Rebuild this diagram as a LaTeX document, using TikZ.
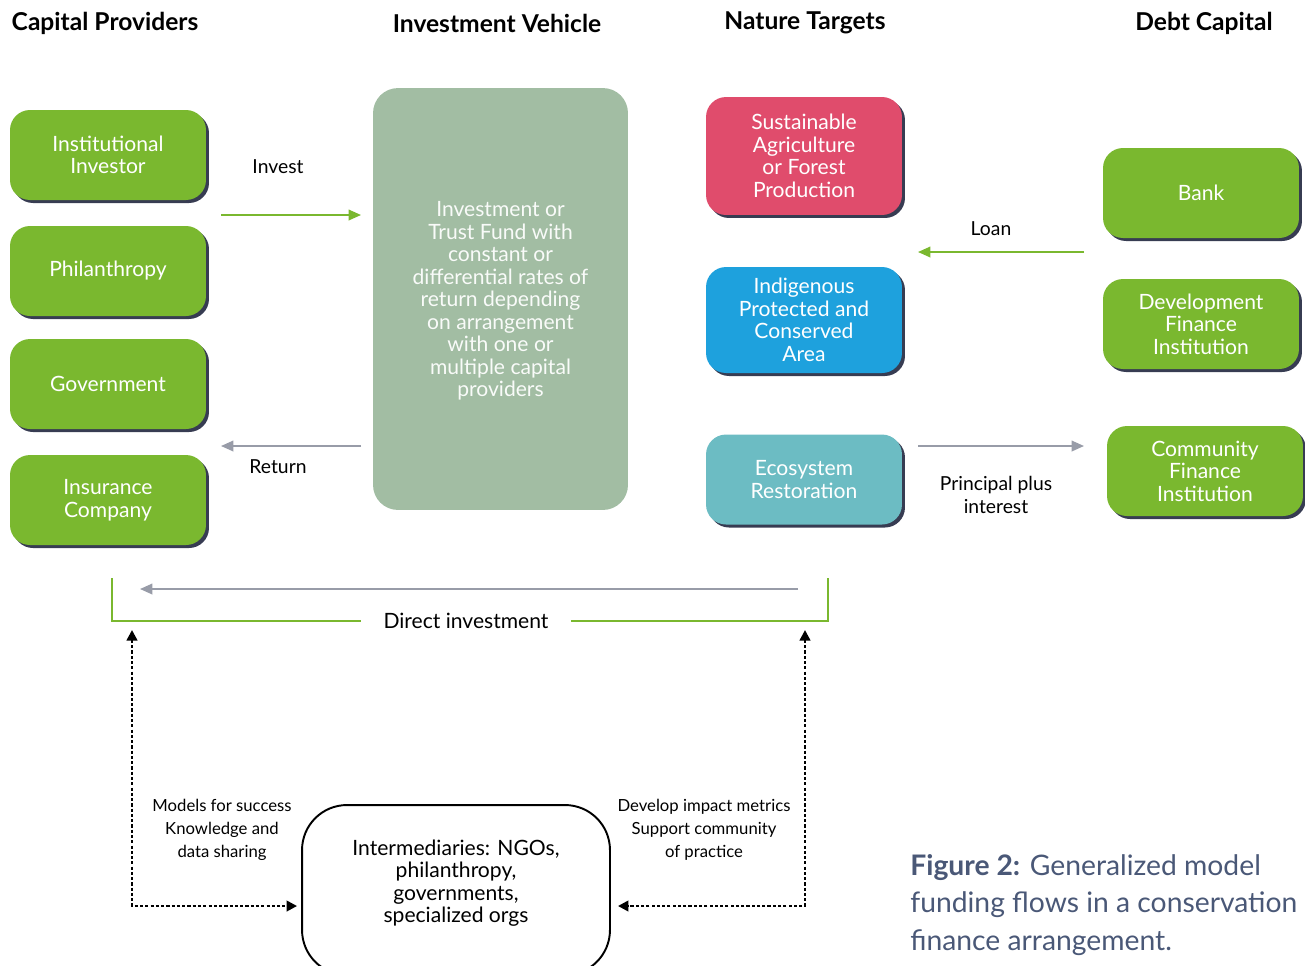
\documentclass[tikz,border=0pt]{standalone}
\usepackage{fontspec}
\setmainfont{Lato}
\usepackage{tikz}
\usetikzlibrary{calc,arrows.meta,shadows,positioning}
\usepackage{xcolor}
\definecolor{provgreen}{HTML}{7AB82F}
\definecolor{agrired}{HTML}{E04C6C}
\definecolor{indigblue}{HTML}{1EA1DD}
\definecolor{ecoteal}{HTML}{6CBCC3}
\definecolor{fundsage}{HTML}{A2BDA3}
\definecolor{shadownavy}{HTML}{373C52}
\definecolor{flowgray}{HTML}{989CA8}
\definecolor{capslate}{HTML}{4A5877}
\tikzset{
  flowbox/.style={rounded corners=0.4cm, minimum width=3.92cm, minimum height=1.8cm,
    text=white, align=center, inner sep=2pt, font=\fontsize{12}{12.8}\selectfont,
    drop shadow={opacity=1, fill=shadownavy, shadow xshift=0.06cm, shadow yshift=-0.06cm}},
  header/.style={font=\bfseries\fontsize{14}{16}\selectfont},
  flowlabel/.style={font=\fontsize{11}{13}\selectfont, align=center},
  smalllabel/.style={font=\fontsize{9.5}{13}\selectfont, align=center},
  greenflow/.style={draw=provgreen, line width=1pt, -{Triangle[length=7pt,width=6pt]}},
  grayflow/.style={draw=flowgray, line width=1pt, -{Triangle[length=7pt,width=6pt]}},
  dotflow/.style={draw=black, line width=1.4pt, dash pattern=on 1.8pt off 1.2pt,
    {Triangle[length=6pt,width=6pt]}-{Triangle[length=6pt,width=6pt]}}
}

\begin{document}
\begin{tikzpicture}[x=0.02cm,y=-0.02cm]
  \useasboundingbox (0,0) rectangle (1305,965);
  % column headers
  \node[header] (hcap) at (105,23) {Capital Providers};
  \node[header] (hveh) at (497,23) {Investment Vehicle};
  \node[header] (hnat) at (805,23) {Nature Targets};
  \node[header] (hdebt) at (1204,23) {Debt Capital};
  % capital providers
  \node[flowbox, fill=provgreen] (inst) at (108,155) {Institutional\\Investor};
  \node[flowbox, fill=provgreen] (phil) at (108,271) {Philanthropy};
  \node[flowbox, fill=provgreen] (gov) at (108,384) {Government};
  \node[flowbox, fill=provgreen] (ins) at (108,500) {Insurance\\Company};
  % investment vehicle
  \node[fill=fundsage, rounded corners=0.5cm, minimum width=5.1cm, minimum height=8.44cm] (fund) at (500.5,299) {};
  \node[text=white!94!fundsage, align=center, font=\fontsize{12}{12.8}\selectfont] (fundtext) at (500.5,301)
    {Investment or\\Trust Fund with\\constant or\\differential rates of\\return depending\\on arrangement\\with one or\\multiple capital\\providers};
  % nature targets
  \node[flowbox, fill=agrired, minimum height=2.36cm] (agri) at (804,156) {Sustainable\\Agriculture\\or Forest\\Production};
  \node[flowbox, fill=indigblue, minimum height=2.12cm] (indig) at (804,320) {Indigenous\\Protected and\\Conserved\\Area};
  \node[flowbox, fill=ecoteal] (eco) at (804,479.5) {Ecosystem\\Restoration};
  % debt capital
  \node[flowbox, fill=provgreen] (bank) at (1201,193) {Bank};
  \node[flowbox, fill=provgreen] (dfi) at (1201,324) {Development\\Finance\\Institution};
  \node[flowbox, fill=provgreen] (cfi) at (1205,471) {Community\\Finance\\Institution};
  % flows between columns
  \coordinate (invA) at (221,215);
  \coordinate (invB) at (361,215);
  \coordinate (retA) at (361,446);
  \coordinate (retB) at (221,446);
  \coordinate (loanA) at (1084,252);
  \coordinate (loanB) at (918,252);
  \coordinate (ppiA) at (918,446);
  \coordinate (ppiB) at (1084,446);
  \draw[greenflow] (invA) -- (invB);
  \draw[grayflow] (retA) -- (retB);
  \draw[greenflow] (loanA) -- (loanB);
  \draw[grayflow] (ppiA) -- (ppiB);
  \node[flowlabel] (invest) at (278,167) {Invest};
  \node[flowlabel] (return) at (278,467) {Return};
  \node[flowlabel] (loan) at (991,229) {Loan};
  \node[flowlabel] (ppi) at (996,495) {Principal plus\\interest};
  % direct investment bracket
  \node[font=\fontsize{12}{14}\selectfont, inner xsep=0.44cm] (direct) at (466,621) {Direct investment};
  \coordinate (brL) at (112,578);
  \coordinate (brR) at (828,578);
  \draw[provgreen, line width=1.1pt] (brL) |- (direct.west);
  \draw[provgreen, line width=1.1pt] (direct.east) -| (brR);
  \coordinate (dirA) at (798,589);
  \coordinate (dirB) at (140,589);
  \draw[grayflow] (dirA) -- (dirB);
  % intermediaries
  \node[draw=black, line width=1.1pt, rounded corners=0.9cm, minimum width=6.16cm, minimum height=3.4cm] (inter) at (456,890) {};
  \node[align=center, font=\fontsize{12}{12.8}\selectfont] (intertext) at (456,883)
    {Intermediaries: NGOs,\\philanthropy,\\governments,\\specialized orgs};
  \coordinate (dotL) at (132,630);
  \coordinate (dotR) at (805,630);
  \draw[dotflow] (dotL) |- ($(inter.west)+(-4,16)$);
  \draw[dotflow] (dotR) |- ($(inter.east)+(7,16)$);
  \node[smalllabel] (models) at (222,830) {Models for success\\Knowledge and\\data sharing};
  \node[smalllabel] (metrics) at (704,830) {Develop impact metrics\\Support community\\of practice};
  % caption
  \node[anchor=north west, align=left, inner sep=0pt, text=capslate,
    font=\fontsize{16.1}{21.4}\selectfont] (caption) at (910,854)
    {\textbf{Figure 2:} Generalized model\\funding flows in a conservation\\finance arrangement.};
\end{tikzpicture}
\end{document}
